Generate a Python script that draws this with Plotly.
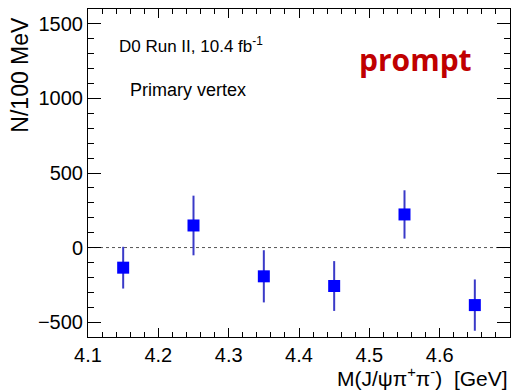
import plotly.graph_objects as go

# Data
mass = [4.15, 4.25, 4.35, 4.45, 4.55, 4.65]
counts = [-135, 148, -193, -258, 222, -386]
errors = [140, 200, 175, 167, 162, 172]

x_range = [4.1, 4.7]
y_range = [-600, 1600]

FONT = "Liberation Sans, Arial, Helvetica, sans-serif"

fig = go.Figure()
fig.add_trace(go.Scatter(
    x=x_range, y=[0, 0], mode="lines",
    line=dict(color="#555555", width=1, dash="dot"),
    hoverinfo="skip", showlegend=False,
))
fig.add_trace(go.Scatter(
    x=mass, y=counts, mode="markers",
    marker=dict(symbol="square", size=12, color="#0000ff"),
    error_y=dict(type="data", array=errors, color="#3a3ac8", thickness=2, width=0),
    showlegend=False,
))

fig.update_layout(
    width=521, height=391,
    margin=dict(l=88, r=11, t=9, b=54),
    plot_bgcolor="white",
    xaxis=dict(
        range=x_range,
        ticks="inside", ticklen=9, tickcolor="black",
        minor=dict(ticks="inside", ticklen=5, tickcolor="black"),
        showline=True, linecolor="black", mirror="allticks",
        tickfont=dict(size=20, family=FONT, color="black"),
    ),
    yaxis=dict(
        range=y_range,
        ticks="inside", ticklen=13, tickcolor="black",
        minor=dict(ticks="inside", ticklen=6, tickcolor="black"),
        showline=True, linecolor="black", mirror="allticks",
        tickfont=dict(size=20, family=FONT, color="black"),
    ),
    annotations=[
        dict(text="D0 Run II, 10.4 fb<sup>-1</sup>", x=0.069, y=0.89, xref="paper", yref="paper",
             xanchor="left", yanchor="middle", showarrow=False,
             font=dict(size=17, family=FONT, color="black")),
        dict(text="Primary vertex", x=0.095, y=0.753, xref="paper", yref="paper",
             xanchor="left", yanchor="middle", showarrow=False,
             font=dict(size=18, family=FONT, color="black")),
        dict(text="<b>prompt</b>", x=0.637, y=0.845, xref="paper", yref="paper",
             xanchor="left", yanchor="middle", showarrow=False,
             font=dict(size=30, family="Open Sans, sans-serif", color="#c00000")),
        dict(text="M(J/\u03c8\u03c0<sup>+</sup>\u03c0<sup>-</sup>)\u00a0\u00a0[GeV]", x=1.0, y=-0.122,
             xref="paper", yref="paper", xanchor="right", yanchor="middle", showarrow=False,
             font=dict(size=21, family=FONT, color="black")),
        dict(text="N/100 MeV", x=-0.161, y=0.8, xref="paper", yref="paper",
             xanchor="center", yanchor="middle", textangle=-90, showarrow=False,
             font=dict(size=23, family=FONT, color="black")),
    ],
)

fig.write_html("out.html")
